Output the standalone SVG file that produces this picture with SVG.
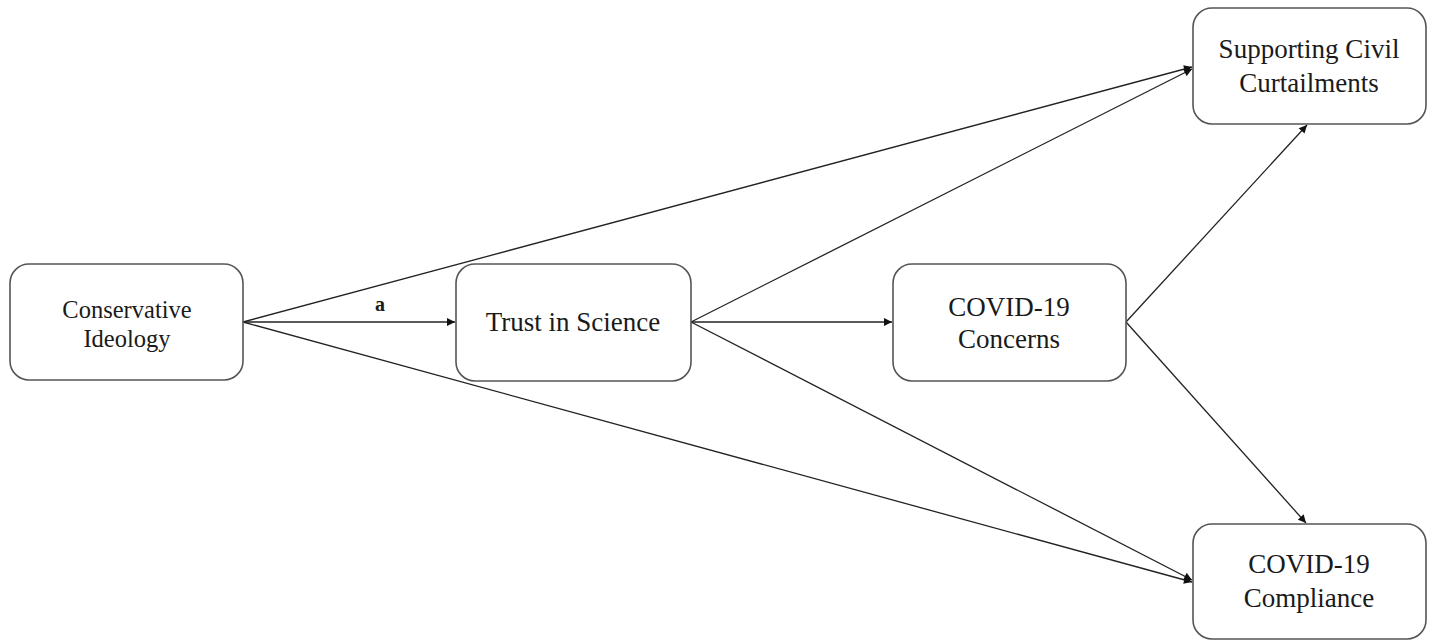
<svg xmlns="http://www.w3.org/2000/svg" width="1434" height="641" viewBox="0 0 1434 641">
  <defs>
    <style>
      .box { fill: #ffffff; stroke: #555555; stroke-width: 1.6; }
      .lbl { font-family: "Liberation Serif", "Times New Roman", serif; font-size: 27px; fill: #1a1a1a; text-anchor: middle; }
      .lbl-s { font-size: 24.5px; }
      .edge { stroke: #222222; stroke-width: 1.3; fill: none; marker-end: url(#arr); }
      .elbl { font-family: "Liberation Serif", "Times New Roman", serif; font-size: 20px; font-weight: bold; fill: #1a1a1a; text-anchor: middle; }
    </style>
    <marker id="arr" viewBox="0 0 10 10" refX="10" refY="5" markerWidth="10" markerHeight="8" markerUnits="userSpaceOnUse" orient="auto">
      <path d="M0,0 L10,5 L0,10 z" fill="#111111"/>
    </marker>
  </defs>
  <rect width="1434" height="641" fill="#ffffff"/>

  <g id="connectors">
    <line class="edge" x1="243" y1="322" x2="455" y2="322"/>
    <line class="edge" x1="243" y1="322" x2="1192" y2="67"/>
    <line class="edge" x1="243" y1="322" x2="1192" y2="582"/>
    <line class="edge" x1="691" y1="322" x2="892" y2="322"/>
    <line class="edge" x1="691" y1="322" x2="1192" y2="69"/>
    <line class="edge" x1="691" y1="322" x2="1192" y2="580"/>
    <line class="edge" x1="1126" y1="322" x2="1307" y2="125"/>
    <line class="edge" x1="1126" y1="322" x2="1306" y2="523"/>
    <text class="elbl" x="380" y="311">a</text>
  </g>

  <g id="node-conservative">
    <rect class="box" x="10" y="264" width="233" height="116" rx="19"/>
    <text class="lbl lbl-s" x="127" y="318">Conservative</text>
    <text class="lbl lbl-s" x="127" y="347">Ideology</text>
  </g>

  <g id="node-trust">
    <rect class="box" x="456" y="264" width="235" height="117" rx="19"/>
    <text class="lbl" x="573" y="331">Trust in Science</text>
  </g>

  <g id="node-concerns">
    <rect class="box" x="893" y="264" width="233" height="117" rx="19"/>
    <text class="lbl" x="1009" y="316">COVID-19</text>
    <text class="lbl" x="1009" y="348">Concerns</text>
  </g>

  <g id="node-curtailments">
    <rect class="box" x="1193" y="8" width="233" height="116" rx="19"/>
    <text class="lbl" x="1309" y="58">Supporting Civil</text>
    <text class="lbl" x="1309" y="92">Curtailments</text>
  </g>

  <g id="node-compliance">
    <rect class="box" x="1193" y="524" width="233" height="115" rx="19"/>
    <text class="lbl" x="1309" y="573">COVID-19</text>
    <text class="lbl" x="1309" y="607">Compliance</text>
  </g>
</svg>
